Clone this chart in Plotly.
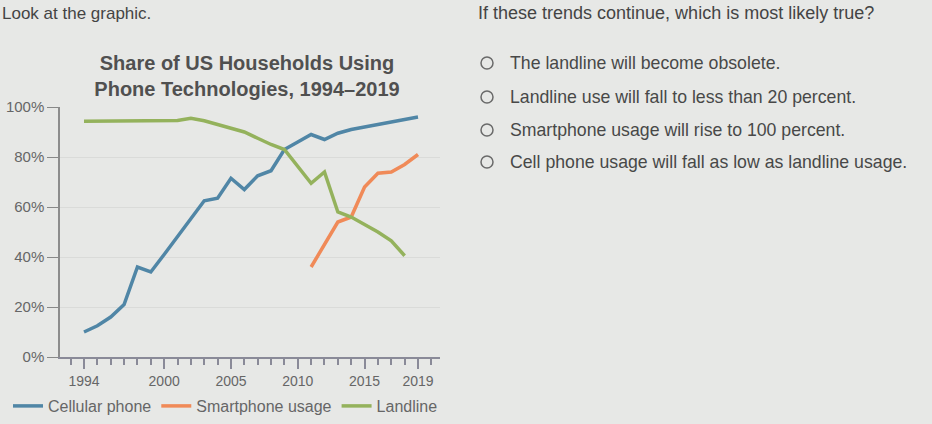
import plotly.graph_objects as go

# ---- data ----
years_cell = list(range(1994, 2020))
cellular = [10, 12.5, 16, 21, 36, 34, 41, 48, 55, 62.5, 63.5, 71.5, 67, 72.5, 74.5,
            83, 86, 89, 87, 89.5, 91, 92, 93, 94, 95, 96]

years_smart = list(range(2011, 2020))
smartphone = [36, 45, 54, 56, 68, 73.5, 74, 77, 81]

years_land = list(range(1994, 2019))
landline = [94.3, 94.3, 94.3, 94.3, 94.3, 94.3, 94.3, 94.6, 95.5, 94.5, 93, 91.5, 90, 87.5, 85,
            83, 76, 69.5, 74, 58, 56, 53, 50, 46.5, 40.5]

y_ticks = [0, 20, 40, 60, 80, 100]
y_labels = ["0%", "20%", "40%", "60%", "80%", "100%"]
x_ticks = [1994, 2000, 2005, 2010, 2015, 2019]

question = "If these trends continue, which is most likely true?"
options = [
    "The landline will become obsolete.",
    "Landline use will fall to less than 20 percent.",
    "Smartphone usage will rise to 100 percent.",
    "Cell phone usage will fall as low as landline usage.",
]

# ---- layout geometry (pixels) ----
W, H = 932, 424
L, R, T, B = 60, 440, 107, 357


def px(x):
    return (x - L) / (R - L)


def py(y):
    return (B - y) / (B - T)


BG = "#e7e8e6"
FONT = "Liberation Sans, Arial, sans-serif"
TXT = "#555555"

fig = go.Figure()
fig.add_trace(go.Scatter(x=years_cell, y=cellular, mode="lines", name="Cellular phone",
                         line=dict(color="#5086a6", width=3.5)))
fig.add_trace(go.Scatter(x=years_smart, y=smartphone, mode="lines", name="Smartphone usage",
                         line=dict(color="#f08a58", width=3.5)))
fig.add_trace(go.Scatter(x=years_land, y=landline, mode="lines", name="Landline",
                         line=dict(color="#94b25c", width=3.5)))

x0 = 1994 - (84 - L) / 13.36
x1 = 2019 + (R - 418) / 13.36

fig.update_layout(
    width=W, height=H,
    margin=dict(l=L, r=W - R, t=T, b=H - B, pad=0, autoexpand=False),
    paper_bgcolor=BG, plot_bgcolor=BG,
    font=dict(family=FONT, color=TXT),
    title=dict(text="Share of US Households Using<br>Phone Technologies, 1994–2019",
               x=247 / W, xanchor="center", y=1 - 70 / H, yanchor="middle",
               font=dict(size=20, color="#505050", family=FONT, weight="bold")),
    xaxis=dict(range=[x0, x1], tickmode="array", tickvals=x_ticks, automargin=False,
               ticks="outside", ticklen=10, tickcolor="#8a8a98", tickwidth=1.5,
               showline=True, linecolor="#8a8a98", linewidth=1.5,
               showgrid=False, zeroline=False,
               tickfont=dict(size=14, color="#666666"),
               minor=dict(tickmode="linear", tick0=1994, dtick=1, ticks="outside",
                          ticklen=6, tickcolor="#8a8a98", showgrid=False)),
    yaxis=dict(range=[0, 100], tickmode="array", tickvals=y_ticks, ticktext=y_labels,
               automargin=False,
               ticks="outside", ticklen=11, tickcolor="#888888",
               showline=True, linecolor="#8c8c8c", linewidth=1.5,
               showgrid=True, gridcolor="#dadbd9", gridwidth=1, zeroline=False,
               tickfont=dict(size=15, color="#666666")),
    legend=dict(orientation="h", x=px(8), xanchor="left", y=py(389), yanchor="top",
                font=dict(size=16, color="#666666"), bgcolor="rgba(0,0,0,0)",
                itemwidth=30, tracegroupgap=0),
    showlegend=True,
)

# page texts
fig.add_annotation(text="Look at the graphic.", x=px(0), y=py(13), xref="paper", yref="paper",
                   xanchor="left", yanchor="middle", showarrow=False,
                   font=dict(size=17, color="#444444", family=FONT))
fig.add_annotation(text=question, x=px(476), y=py(13), xref="paper", yref="paper",
                   xanchor="left", yanchor="middle", showarrow=False,
                   font=dict(size=18, color="#444444", family=FONT))

opt_y = [63, 97, 130, 162]
for t, yy in zip(options, opt_y):
    fig.add_annotation(text=t, x=px(508), y=py(yy), xref="paper", yref="paper",
                       xanchor="left", yanchor="middle", showarrow=False,
                       font=dict(size=17.7, color="#484848", family=FONT))
    fig.add_shape(type="circle", xref="paper", yref="paper",
                  x0=px(481), x1=px(493), y0=py(yy - 6), y1=py(yy + 6),
                  line=dict(color="#6a6a6a", width=1.5), fillcolor="rgba(0,0,0,0)")

fig.write_html("out.html")
